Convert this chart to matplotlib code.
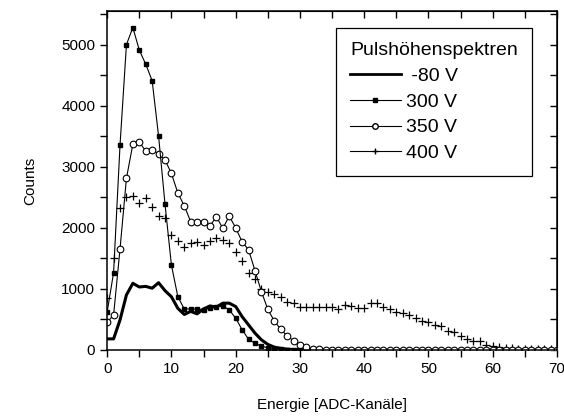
import matplotlib
matplotlib.use("Agg")
import matplotlib.pyplot as plt
from matplotlib.lines import Line2D
from matplotlib.ticker import MultipleLocator

plt.rcParams["font.family"] = ["Liberation Sans", "DejaVu Sans"]

# channel numbers (ADC-Kanäle)
ch_80 = list(range(0, 31))
counts_80 = [180, 180, 490, 900, 1090, 1030, 1040, 1010, 1100, 970, 870,
             680, 580, 630, 590, 670, 720, 700, 765, 765, 710,
             545, 410, 275, 165, 90, 45, 25, 12, 6, 3]

ch_300 = list(range(0, 31))
counts_300 = [620, 1265, 3350, 5000, 5280, 4910, 4680, 4410, 3505, 2390, 1390,
              870, 670, 670, 670, 660, 680, 700, 720, 655, 520,
              330, 175, 110, 60, 35, 20, 10, 5, 3, 2]

ch_350 = list(range(0, 71))
counts_350 = [450, 570, 1650, 2810, 3370, 3400, 3260, 3280, 3210, 3110, 2890,
              2570, 2360, 2100, 2090, 2090, 2030, 2180, 1990, 2190, 2000,
              1770, 1640, 1300, 955, 665, 475, 340, 230, 150, 85,
              40, 20, 12] + [5] * 37

ch_400 = list(range(0, 71))
counts_400 = [850, 1500, 2320, 2500, 2520, 2400, 2490, 2340, 2190, 2160, 1880,
              1790, 1680, 1745, 1760, 1720, 1780, 1835, 1800, 1757, 1600,
              1457, 1265, 1165, 1000, 950, 920, 860, 780, 765, 710,
              710, 710, 710, 710, 710, 666, 736, 725, 682, 682,
              764, 764, 709, 666, 627, 600, 570, 518, 480, 464,
              409, 393, 311, 300, 229, 175, 140, 147, 82, 65,
              55, 38, 30, 20, 20, 15, 12, 8, 8, 5]

fig = plt.figure(figsize=(5.64, 4.17), dpi=100)
ax = fig.add_axes([0.190, 0.161, 0.7975, 0.8125])

ax.plot(ch_400, counts_400, linestyle="none", marker="+", color="black",
        markersize=5.5, markeredgewidth=0.9)
ax.plot(ch_350, counts_350, color="black", linewidth=0.8, marker="o",
        markersize=4.8, markerfacecolor="white", markeredgecolor="black",
        markeredgewidth=0.8)
ax.plot(ch_300, counts_300, color="black", linewidth=0.8, marker="s",
        markersize=2.6, markerfacecolor="black", markeredgecolor="black")
ax.plot(ch_80, counts_80, color="black", linewidth=2.2)

ax.set_xlim(0, 70)
ax.set_ylim(0, 5550)
ax.xaxis.set_major_locator(MultipleLocator(10))
ax.xaxis.set_minor_locator(MultipleLocator(5))
ax.yaxis.set_major_locator(MultipleLocator(1000))
ax.yaxis.set_minor_locator(MultipleLocator(500))
ax.tick_params(which="both", direction="out", length=5, width=1.0,
               labelsize=11, top=False, right=False)

for sp in ax.spines.values():
    sp.set_linewidth(1.1)

top = ax.secondary_xaxis("top")
top.xaxis.set_major_locator(MultipleLocator(10))
top.xaxis.set_minor_locator(MultipleLocator(5))
top.tick_params(which="both", direction="in", length=5, width=1.0, labeltop=False)
right = ax.secondary_yaxis("right")
right.yaxis.set_major_locator(MultipleLocator(1000))
right.yaxis.set_minor_locator(MultipleLocator(500))
right.tick_params(which="both", direction="in", length=5, width=1.0, labelright=False)

ax.set_xlabel("Energie [ADC-Kanäle]", fontsize=11, labelpad=16)
ax.set_ylabel("Counts", fontsize=11, labelpad=17)

handles = [
    Line2D([], [], color="black", linewidth=2.0),
    Line2D([], [], color="black", linewidth=0.8, marker="s", markersize=2.4),
    Line2D([], [], color="black", linewidth=0.8, marker="o", markersize=4,
           markerfacecolor="white"),
    Line2D([], [], color="black", linewidth=0.8, marker="+", markersize=4),
]
labels = [" -80 V", "300 V", "350 V", "400 V"]
leg = ax.legend(handles, labels, title="Pulshöhenspektren", fontsize=14,
                title_fontsize=14, loc="upper right",
                bbox_to_anchor=(0.944, 0.950), borderaxespad=0, frameon=True,
                fancybox=False, framealpha=1, edgecolor="black",
                handlelength=2.6, handletextpad=0.3, labelspacing=0.42,
                borderpad=0.72)
leg.get_frame().set_linewidth(0.9)
leg._legend_box.align = "left"

fig.savefig("out.png", dpi=100)
